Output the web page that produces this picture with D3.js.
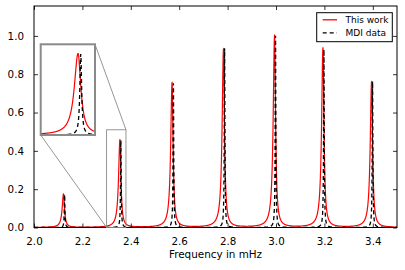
<!DOCTYPE html>
<html><head><meta charset="utf-8">
<script src="https://cdn.jsdelivr.net/npm/d3@7"></script>
<style>
body{margin:0;background:#fff;}
svg{display:block;}
text{font-family:"DejaVu Sans",sans-serif;}
</style></head><body>
<div id="chart"></div>
<script>
// ---- data ----
const xTicks = [2.0, 2.2, 2.4, 2.6, 2.8, 3.0, 3.2, 3.4];
const yTicks = [0.0, 0.2, 0.4, 0.6, 0.8, 1.0];
const seriesNames = ["This work", "MDI data"];
// "This work" peaks
const workFreq   = [2.122, 2.355, 2.5705, 2.783, 2.994, 3.194, 3.395];
const workHeight = [0.175, 0.457, 0.755, 0.930, 1.000, 0.935, 0.760];
const workWidthL = [0.0066, 0.0066, 0.0066, 0.0066, 0.0066, 0.0066, 0.0066];
const workWidthR = [0.0050, 0.0050, 0.0050, 0.0050, 0.0050, 0.0050, 0.0050];
// MDI data peaks
const mdiFreq    = [2.1265, 2.359, 2.576, 2.7876, 2.998, 3.198, 3.399];
const mdiHeight  = [0.172, 0.455, 0.752, 0.935, 1.000, 0.930, 0.762];
const mdiWidth   = [0.0016, 0.0016, 0.0016, 0.0016, 0.0016, 0.0016, 0.0016];
// zoomed region shown in inset
const zoomX = [2.30, 2.38];
const zoomY = [0.0, 0.51];

// ---- profile from peak parameters ----
function profile(freqs, heights, wl, wr, f) {
  let s = 0;
  for (let i = 0; i < freqs.length; i++) {
    const d = f - freqs[i];
    const g = d < 0 ? wl[i] : wr[i];
    s += heights[i] * g * g / (d * d + g * g);
  }
  return s;
}
const grid = d3.range(2.0, 3.5001, 0.0001);
const workPts = grid.map(f => [f, profile(workFreq, workHeight, workWidthL, workWidthR, f)]);
const mdiPts  = grid.map(f => [f, profile(mdiFreq, mdiHeight, mdiWidth, mdiWidth, f)]);

// ---- layout ----
const W = 405, H = 270;
const L = 34, R = 397, T = 6, B = 227.5;
const svg = d3.select("#chart").append("svg").attr("width", W).attr("height", H);

const x = d3.scaleLinear().domain([2.0, 3.5]).range([L, R]);
const y = d3.scaleLinear().domain([0, 1.156]).range([B, T]);

svg.append("defs").append("clipPath").attr("id", "clipMain")
  .append("rect").attr("x", L).attr("y", T).attr("width", R - L).attr("height", B - T);

const line = d3.line().x(d => x(d[0])).y(d => y(d[1]));
const gMain = svg.append("g").attr("clip-path", "url(#clipMain)");
gMain.append("path").attr("d", line(workPts)).attr("fill", "none")
  .attr("stroke", "#ff0000").attr("stroke-width", 1.2);
gMain.append("path").attr("d", line(mdiPts)).attr("fill", "none")
  .attr("stroke", "#000").attr("stroke-width", 1.3).attr("stroke-dasharray", "4,3");

// axes
function styleAxis(g) {
  g.select(".domain").remove();
  g.selectAll(".tick line").attr("stroke", "#000").attr("stroke-width", 0.8);
  g.selectAll(".tick text").attr("fill", "#000").style("font-size", "10.3px")
    .style("font-family", "DejaVu Sans");
}
svg.append("g").attr("transform", `translate(0,${B})`)
  .call(d3.axisBottom(x).tickValues(xTicks).tickFormat(d3.format(".1f")).tickSize(-4).tickPadding(10))
  .call(styleAxis);
svg.append("g").attr("transform", `translate(0,${T})`)
  .call(d3.axisTop(x).tickValues(xTicks).tickFormat("").tickSize(-4))
  .call(styleAxis);
svg.append("g").attr("transform", `translate(${L},0)`)
  .call(d3.axisLeft(y).tickValues(yTicks).tickFormat(d3.format(".1f")).tickSize(-4).tickPadding(10))
  .call(styleAxis);
svg.append("g").attr("transform", `translate(${R},0)`)
  .call(d3.axisRight(y).tickValues(yTicks).tickFormat("").tickSize(-4))
  .call(styleAxis);

svg.append("rect").attr("x", L).attr("y", T).attr("width", R - L).attr("height", B - T)
  .attr("fill", "none").attr("stroke", "#000").attr("stroke-width", 1);

svg.append("text").attr("x", (L + R) / 2).attr("y", 258.3).attr("text-anchor", "middle")
  .style("font-size", "10.4px").text("Frequency in mHz");

// ---- zoom rectangle + connectors ----
const gray = "#8a8a8a";
const ix0 = 40.7, ix1 = 95, iy0 = 44.3, iy1 = 135;
svg.append("rect").attr("x", x(zoomX[0])).attr("y", y(zoomY[1]))
  .attr("width", x(zoomX[1]) - x(zoomX[0])).attr("height", y(zoomY[0]) - y(zoomY[1]))
  .attr("fill", "none").attr("stroke", gray).attr("stroke-width", 0.9);
svg.append("line").attr("x1", ix1).attr("y1", iy0).attr("x2", x(zoomX[1])).attr("y2", y(zoomY[1]))
  .attr("stroke", gray).attr("stroke-width", 0.9);
svg.append("line").attr("x1", ix0).attr("y1", iy1).attr("x2", x(zoomX[0])).attr("y2", y(zoomY[0]))
  .attr("stroke", gray).attr("stroke-width", 0.9);

// ---- inset ----
const xi = d3.scaleLinear().domain(zoomX).range([ix0, ix1]);
const yi = d3.scaleLinear().domain(zoomY).range([iy1, iy0]);
svg.append("rect").attr("x", ix0).attr("y", iy0).attr("width", ix1 - ix0).attr("height", iy1 - iy0)
  .attr("fill", "#fff");
svg.select("defs").append("clipPath").attr("id", "clipInset")
  .append("rect").attr("x", ix0).attr("y", iy0).attr("width", ix1 - ix0).attr("height", iy1 - iy0);
const lineI = d3.line().x(d => xi(d[0])).y(d => yi(d[1]));
const insetWork = workPts.filter(d => d[0] >= zoomX[0] - 0.002 && d[0] <= zoomX[1] + 0.002);
const insetMdi = mdiPts.filter(d => d[0] >= zoomX[0] - 0.002 && d[0] <= zoomX[1] + 0.002);
const gIn = svg.append("g").attr("clip-path", "url(#clipInset)");
gIn.append("path").attr("d", lineI(insetWork)).attr("fill", "none")
  .attr("stroke", "#ff0000").attr("stroke-width", 1.2);
gIn.append("path").attr("d", lineI(insetMdi)).attr("fill", "none")
  .attr("stroke", "#000").attr("stroke-width", 1.3).attr("stroke-dasharray", "4,3");
svg.append("rect").attr("x", ix0).attr("y", iy0).attr("width", ix1 - ix0).attr("height", iy1 - iy0)
  .attr("fill", "none").attr("stroke", gray).attr("stroke-width", 2);

// ---- legend ----
const lg = svg.append("g");
lg.append("rect").attr("x", 316.7).attr("y", 12.7).attr("width", 75.6).attr("height", 29)
  .attr("fill", "#fff").attr("stroke", "#000").attr("stroke-width", 1);
const legendColors = ["#ff0000", "#000"];
const legendDash = [null, "4,3"];
seriesNames.forEach((name, i) => {
  const yy = 19.8 + i * 13;
  lg.append("line").attr("x1", 322.7).attr("x2", 337).attr("y1", yy).attr("y2", yy)
    .attr("stroke", legendColors[i]).attr("stroke-width", 1.3)
    .attr("stroke-dasharray", legendDash[i]);
  lg.append("text").attr("x", 345.5).attr("y", yy + 3.3).style("font-size", "9px").text(name);
});
</script>
</body></html>
